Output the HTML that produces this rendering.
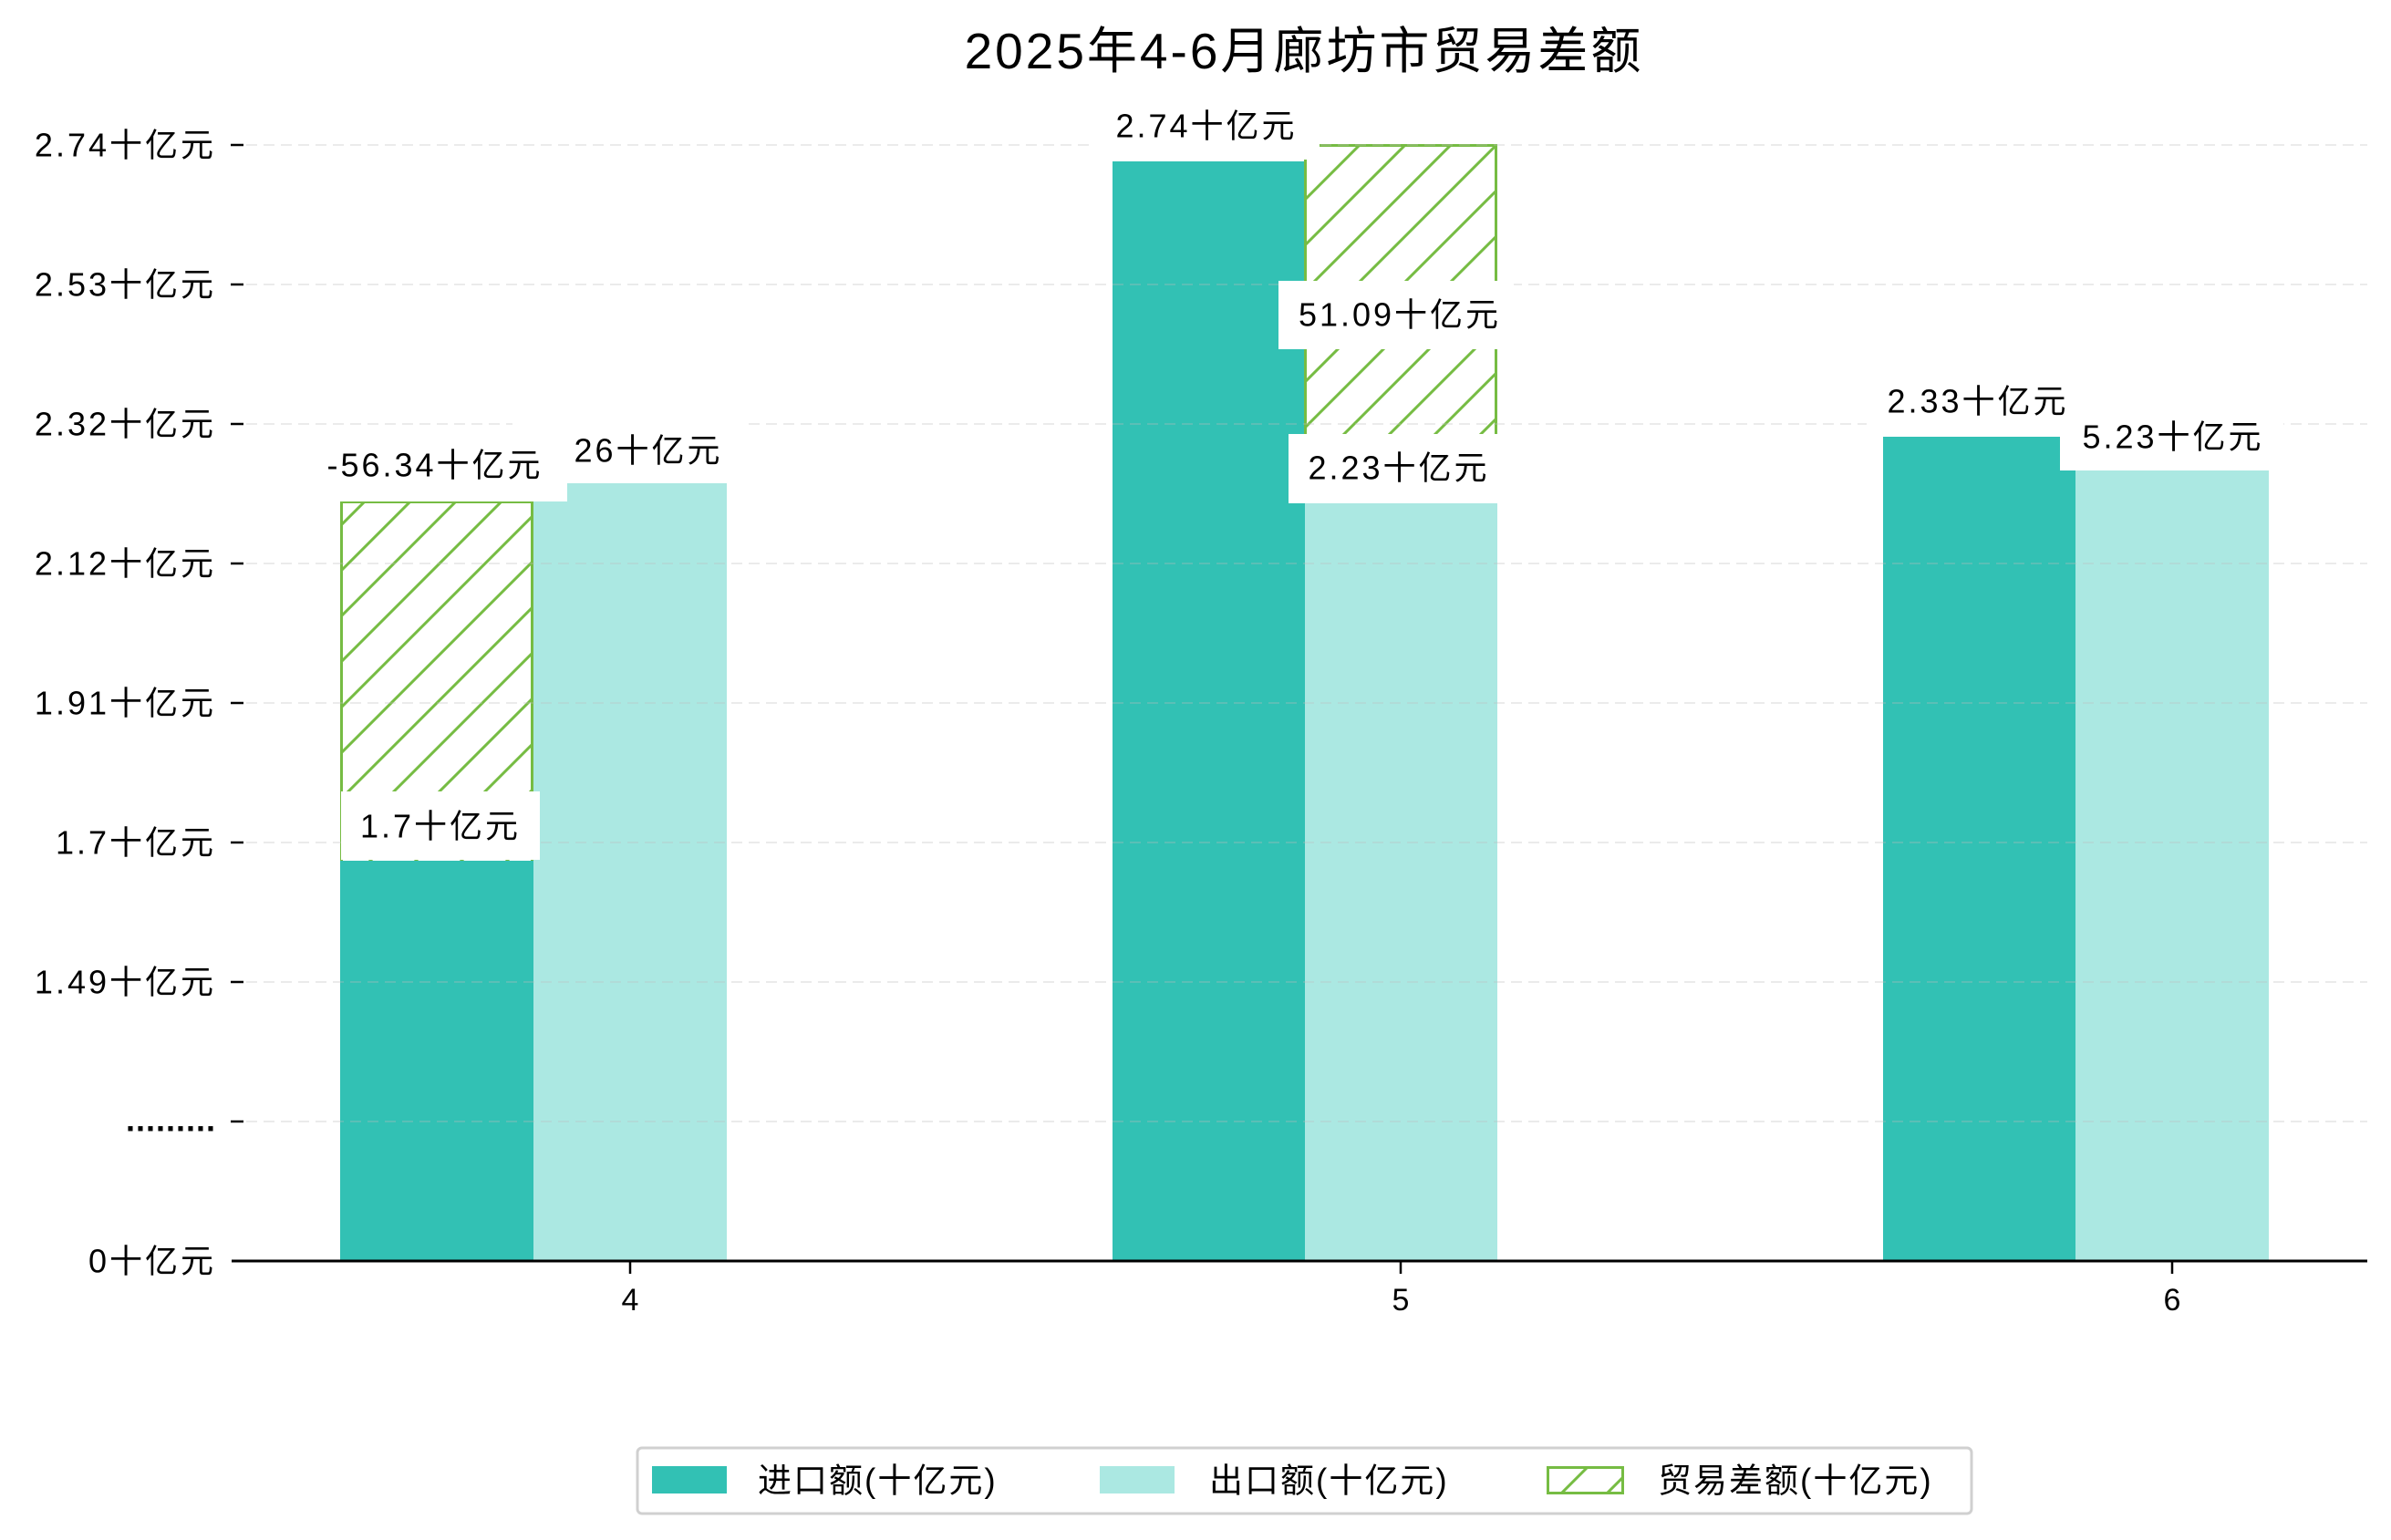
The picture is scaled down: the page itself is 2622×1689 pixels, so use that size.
<!DOCTYPE html>
<html><head><meta charset="utf-8"><style>
html,body{margin:0;padding:0;background:#fff}
svg{display:block}
text{font-family:"Liberation Sans","Noto Sans CJK SC",sans-serif;fill:#000}
</style></head><body>
<svg width="2622" height="1689" viewBox="0 0 2622 1689" xmlns="http://www.w3.org/2000/svg">
<defs>
<pattern id="h" patternUnits="userSpaceOnUse" width="50" height="50">
<path d="M-5,5 L5,-5 M0,50 L50,0 M45,55 L55,45" stroke="#76bc43" stroke-width="3"/>
</pattern>
</defs>
<rect width="2622" height="1689" fill="#fff"/>
<text x="1430" y="56" font-size="55" letter-spacing="3" text-anchor="middle" dominant-baseline="central">2025年4-6月廊坊市贸易差额</text>

<!-- bars -->
<g>
<rect x="373" y="944" width="212" height="439" fill="#32c1b4"/>
<rect x="585" y="530" width="212" height="853" fill="#abe8e2"/>
<rect x="374" y="550" width="210" height="394" fill="url(#h)"/>
<path d="M374.5,944 V550.5 H583.5 V944" fill="none" stroke="#76bc43" stroke-width="3"/>

<rect x="1220" y="177" width="211" height="1206" fill="#32c1b4"/>
<rect x="1431" y="552" width="211" height="831" fill="#abe8e2"/>
<rect x="1431" y="159" width="210" height="393" fill="url(#h)"/>
<path d="M1431.5,552 V159.5 H1640.5 V552" fill="none" stroke="#76bc43" stroke-width="3"/>

<rect x="2065" y="479" width="211" height="904" fill="#32c1b4"/>
<rect x="2276" y="516" width="212" height="867" fill="#abe8e2"/>
</g>

<!-- grid -->
<g stroke="rgba(190,190,190,0.3)" stroke-width="2" stroke-dasharray="12,7">
<line x1="270" x2="2596" y1="159" y2="159"/>
<line x1="270" x2="2596" y1="312" y2="312"/>
<line x1="270" x2="2596" y1="465" y2="465"/>
<line x1="270" x2="2596" y1="618" y2="618"/>
<line x1="270" x2="2596" y1="771" y2="771"/>
<line x1="270" x2="2596" y1="924" y2="924"/>
<line x1="270" x2="2596" y1="1077" y2="1077"/>
<line x1="270" x2="2596" y1="1230" y2="1230"/>
</g>

<!-- label boxes -->
<g fill="#fff">
<rect x="374" y="868" width="218" height="75"/>
<rect x="345" y="473" width="277" height="77"/>
<rect x="622" y="455" width="193" height="75"/>
<rect x="562" y="455" width="60" height="20"/>
<rect x="1197" y="100" width="250" height="75"/>
<rect x="1402" y="308" width="258" height="75"/>
<rect x="1413" y="476" width="237" height="76"/>
<rect x="2047" y="403" width="235" height="75"/>
<rect x="2259" y="442" width="245" height="74"/>
</g>
<g font-size="36" letter-spacing="3" text-anchor="middle" dominant-baseline="central">
<text x="483" y="906">1.7十亿元</text>
<text x="477" y="510">-56.34十亿元</text>
<text x="711" y="494">26十亿元</text>
<text x="1323" y="138">2.74十亿元</text>
<text x="1535" y="345">51.09十亿元</text>
<text x="1534" y="513">2.23十亿元</text>
<text x="2169" y="440">2.33十亿元</text>
<text x="2383" y="479">5.23十亿元</text>
</g>

<!-- axes -->
<line x1="254" x2="2596" y1="1383" y2="1383" stroke="#000" stroke-width="3"/>
<g stroke="#000" stroke-width="2.5">
<line x1="253" x2="267" y1="159" y2="159"/>
<line x1="253" x2="267" y1="312" y2="312"/>
<line x1="253" x2="267" y1="465" y2="465"/>
<line x1="253" x2="267" y1="618" y2="618"/>
<line x1="253" x2="267" y1="771" y2="771"/>
<line x1="253" x2="267" y1="924" y2="924"/>
<line x1="253" x2="267" y1="1077" y2="1077"/>
<line x1="253" x2="267" y1="1230" y2="1230"/>
<line x1="691" x2="691" y1="1384" y2="1397"/>
<line x1="1536" x2="1536" y1="1384" y2="1397"/>
<line x1="2382" x2="2382" y1="1384" y2="1397"/>
</g>
<g font-size="36" letter-spacing="3" text-anchor="end" dominant-baseline="central">
<text x="237" y="159">2.74十亿元</text>
<text x="237" y="312">2.53十亿元</text>
<text x="237" y="465">2.32十亿元</text>
<text x="237" y="618">2.12十亿元</text>
<text x="237" y="771">1.91十亿元</text>
<text x="237" y="924">1.7十亿元</text>
<text x="237" y="1077">1.49十亿元</text>
<text x="237" y="1228" font-weight="bold" letter-spacing="1">.........</text>
<text x="237" y="1383">0十亿元</text>
</g>
<g font-size="34" text-anchor="middle" dominant-baseline="central">
<text x="691" y="1426">4</text>
<text x="1536" y="1426">5</text>
<text x="2382" y="1426">6</text>
</g>

<!-- legend -->
<rect x="699" y="1588" width="1463" height="72" rx="5" fill="#fff" stroke="#d0d0d0" stroke-width="3"/>
<rect x="715" y="1608" width="82" height="30" fill="#32c1b4"/>
<rect x="1206" y="1608" width="82" height="30" fill="#abe8e2"/>
<rect x="1697.5" y="1609.5" width="82" height="28" fill="url(#h)" stroke="#76bc43" stroke-width="3"/>
<g font-size="37" letter-spacing="2" dominant-baseline="central">
<text x="831" y="1624">进口额(十亿元)</text>
<text x="1326" y="1624">出口额(十亿元)</text>
<text x="1818" y="1624">贸易差额(十亿元)</text>
</g>
</svg>
</body></html>
